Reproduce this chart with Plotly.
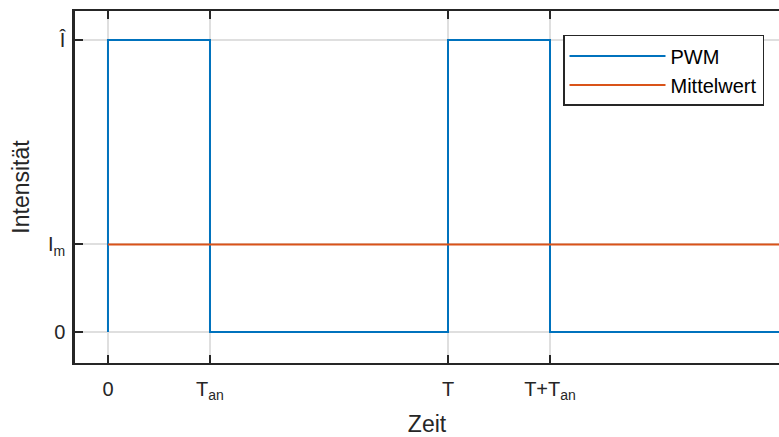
import plotly.graph_objects as go

# Pulse-width modulation: period T = 1, on-time T_an = 0.3, peak Î = 1
pwm_t = [0, 0, 0.3, 1, 1.3, 2]
pwm_i = [0, 1, 0, 1, 0, 0]
mean_t = [0, 2]
mean_i = [0.3, 0.3]

x_tickvals = [0, 0.3, 1, 1.3]
x_ticktext = ["0", "T<sub>an</sub>", "T", "T+T<sub>an</sub>"]
y_tickvals = [0, 0.3, 1]
y_ticktext = ["0", "I<sub>m</sub>", "Î"]

FONT = "Liberation Sans, Arial, Helvetica, sans-serif"
INK = "#262626"
GRID = "#dfdfdf"

fig = go.Figure()
fig.add_trace(go.Scatter(x=pwm_t, y=pwm_i, mode="lines", name="PWM",
                         line=dict(color="#0072BD", width=2, shape="hv")))
fig.add_trace(go.Scatter(x=mean_t, y=mean_i, mode="lines", name="Mittelwert",
                         line=dict(color="#D95319", width=2)))

fig.update_layout(
    width=779, height=437,
    margin=dict(l=75, r=0, t=11, b=74),
    paper_bgcolor="white", plot_bgcolor="white",
    font=dict(family=FONT, size=20, color=INK),
    showlegend=True,
    legend=dict(x=0.9787, y=0.932, xanchor="right", yanchor="top",
                bgcolor="white", bordercolor=INK, borderwidth=1.5,
                itemwidth=96, tracegroupgap=0,
                font=dict(family=FONT, size=20, color="black")),
)

fig.update_xaxes(
    range=[-0.097, 1.9735],
    tickmode="array", tickvals=x_tickvals, ticktext=x_ticktext,
    ticks="inside", ticklen=8, tickwidth=2, tickcolor=INK,
    showline=True, linecolor=INK, linewidth=2, mirror="ticks",
    showgrid=True, gridcolor=GRID, gridwidth=2, zeroline=False,
    tickfont=dict(size=20, color=INK), ticklabelstandoff=7,
    title=dict(text="Zeit", font=dict(size=23, color=INK), standoff=14),
)
fig.update_yaxes(
    range=[-0.106, 1.099],
    tickmode="array", tickvals=y_tickvals, ticktext=y_ticktext,
    ticks="inside", ticklen=8, tickwidth=2, tickcolor=INK,
    showline=True, linecolor=INK, linewidth=2.5, mirror=False,
    showgrid=True, gridcolor=GRID, gridwidth=2, zeroline=False,
    tickfont=dict(size=20, color=INK), ticklabelstandoff=3,
    title=dict(text="Intensität", font=dict(size=23, color=INK), standoff=12),
)

fig.write_html("out.html")
